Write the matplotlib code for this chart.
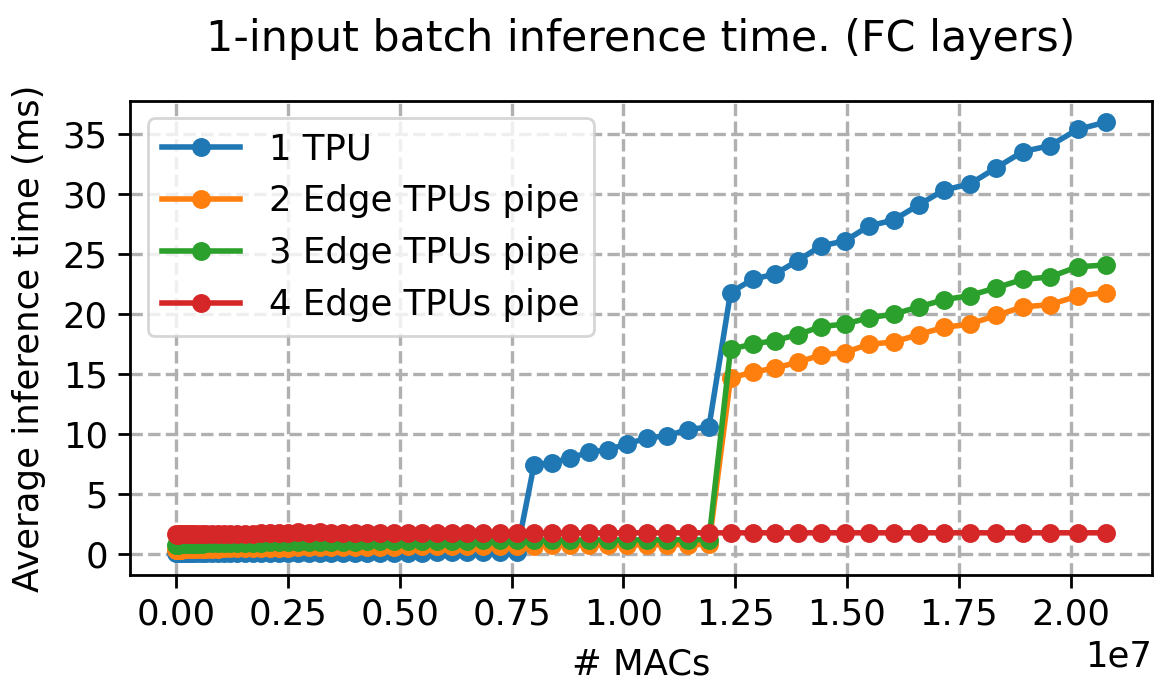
import matplotlib
matplotlib.use("Agg")
import matplotlib.pyplot as plt

# x values: number of MACs
macs = [3672, 16848, 39601, 71931, 113839, 165324, 226386, 297025, 377242, 467036,
        566407, 675355, 793881, 921984, 1059664, 1206922, 1363757, 1530169, 1706158, 1891725,
        2086869, 2291590, 2505889, 2729765, 2963218, 3206248, 3458856, 3721041, 3992803, 4274143,
        4565060, 4865554, 5175625, 5495274, 5824500, 6163303, 6511683, 6869641, 7237176, 7614288,
        8000978, 8397245, 8803089, 9218510, 9643509, 10078085, 10522238, 10975969, 11439277, 11912162,
        12394624, 12886664, 13388281, 13899475, 14420247, 14950596, 15490522, 16040025, 16599106, 17167764,
        17746000, 18333811, 18931201, 19538168, 20154712, 20780834]

tpu1 = [0.05, 0.05, 0.05, 0.05, 0.05, 0.05, 0.06, 0.06, 0.06, 0.06,
        0.07, 0.07, 0.07, 0.07, 0.08, 0.08, 0.08, 0.08, 0.09, 0.09,
        0.09, 0.09, 0.10, 0.10, 0.10, 0.10, 0.11, 0.11, 0.11, 0.11,
        0.12, 0.12, 0.12, 0.12, 0.13, 0.13, 0.13, 0.14, 0.14, 0.15,
        7.45, 7.60, 8.00, 8.48, 8.70, 9.17, 9.67, 9.87, 10.37, 10.60,
        21.80, 22.90, 23.35, 24.46, 25.70, 26.10, 27.35, 27.85, 29.10, 30.35,
        30.85, 32.20, 33.55, 34.05, 35.40, 36.00]

pipe2 = [0.30, 0.32, 0.34, 0.35, 0.36, 0.38, 0.39, 0.40, 0.41, 0.42,
         0.43, 0.44, 0.45, 0.46, 0.47, 0.48, 0.48, 0.49, 0.50, 0.51,
         0.52, 0.53, 0.54, 0.55, 0.55, 0.56, 0.57, 0.58, 0.59, 0.60,
         0.61, 0.62, 0.63, 0.64, 0.65, 0.66, 0.67, 0.68, 0.69, 0.70,
         0.71, 0.72, 0.73, 0.74, 0.75, 0.76, 0.77, 0.78, 0.79, 0.80,
         14.67, 15.17, 15.50, 16.00, 16.60, 16.80, 17.50, 17.67, 18.30, 18.90,
         19.17, 19.90, 20.60, 20.80, 21.50, 21.80]

pipe3 = [0.75, 0.77, 0.79, 0.80, 0.81, 0.82, 0.83, 0.84, 0.85, 0.86,
         0.87, 0.88, 0.89, 0.90, 0.91, 0.92, 0.93, 0.94, 0.95, 0.96,
         0.97, 0.98, 0.98, 0.99, 1.00, 1.01, 1.02, 1.03, 1.04, 1.05,
         1.06, 1.07, 1.08, 1.09, 1.10, 1.11, 1.12, 1.13, 1.14, 1.15,
         1.15, 1.16, 1.16, 1.17, 1.17, 1.18, 1.18, 1.19, 1.20, 1.20,
         17.08, 17.50, 17.80, 18.30, 18.97, 19.17, 19.70, 20.00, 20.60, 21.20,
         21.55, 22.20, 22.90, 23.10, 23.95, 24.10]

pipe4 = [1.70, 1.62, 1.62, 1.63, 1.63, 1.64, 1.64, 1.64, 1.65, 1.65,
         1.66, 1.66, 1.66, 1.67, 1.67, 1.68, 1.68, 1.69, 1.70, 1.72,
         1.74, 1.76, 1.78, 1.80, 1.78, 1.80, 1.77, 1.76, 1.76, 1.77,
         1.76, 1.77, 1.77, 1.77, 1.76, 1.77, 1.77, 1.77, 1.77, 1.77,
         1.77, 1.77, 1.77, 1.77, 1.77, 1.77, 1.77, 1.77, 1.77, 1.77,
         1.77, 1.77, 1.77, 1.77, 1.77, 1.77, 1.77, 1.77, 1.77, 1.77,
         1.77, 1.77, 1.77, 1.77, 1.77, 1.77]

series = [(tpu1, "1 TPU"), (pipe2, "2 Edge TPUs pipe"),
          (pipe3, "3 Edge TPUs pipe"), (pipe4, "4 Edge TPUs pipe")]

xticks = [0.0, 0.25e7, 0.5e7, 0.75e7, 1.0e7, 1.25e7, 1.5e7, 1.75e7, 2.0e7]
yticks = [0, 5, 10, 15, 20, 25, 30, 35]

title = "1-input batch inference time. (FC layers)"
xlabel = "# MACs"
ylabel = "Average inference time (ms)"

fs = 12.8
fig = plt.figure(figsize=(5.815, 3.49), dpi=200)
ax = fig.add_axes([130/1163, 1 - 575/698, (1152 - 130)/1163, (575 - 100.7)/698])

for ys, lab in series:
    ax.plot(macs, ys, marker="o", markersize=5.8, linewidth=2.0, label=lab)

ax.grid(True, linestyle="--", color="#b0b0b0", linewidth=1.2)
ax.set_axisbelow(True)
for sp in ax.spines.values():
    sp.set_linewidth(1.0)
ax.set_xticks(xticks)
ax.set_yticks(yticks)
ax.tick_params(labelsize=fs, width=1.0, length=4.5)
ax.xaxis.get_offset_text().set_fontsize(fs)
ax.set_xlabel(xlabel, fontsize=fs, labelpad=6)
ax.set_ylabel(ylabel, fontsize=fs, labelpad=6)
ax.set_title(title, fontsize=15.4, pad=18)
leg = ax.legend(loc="upper left", fontsize=fs, handlelength=2.2)

fig.savefig("out.png", dpi=200)
